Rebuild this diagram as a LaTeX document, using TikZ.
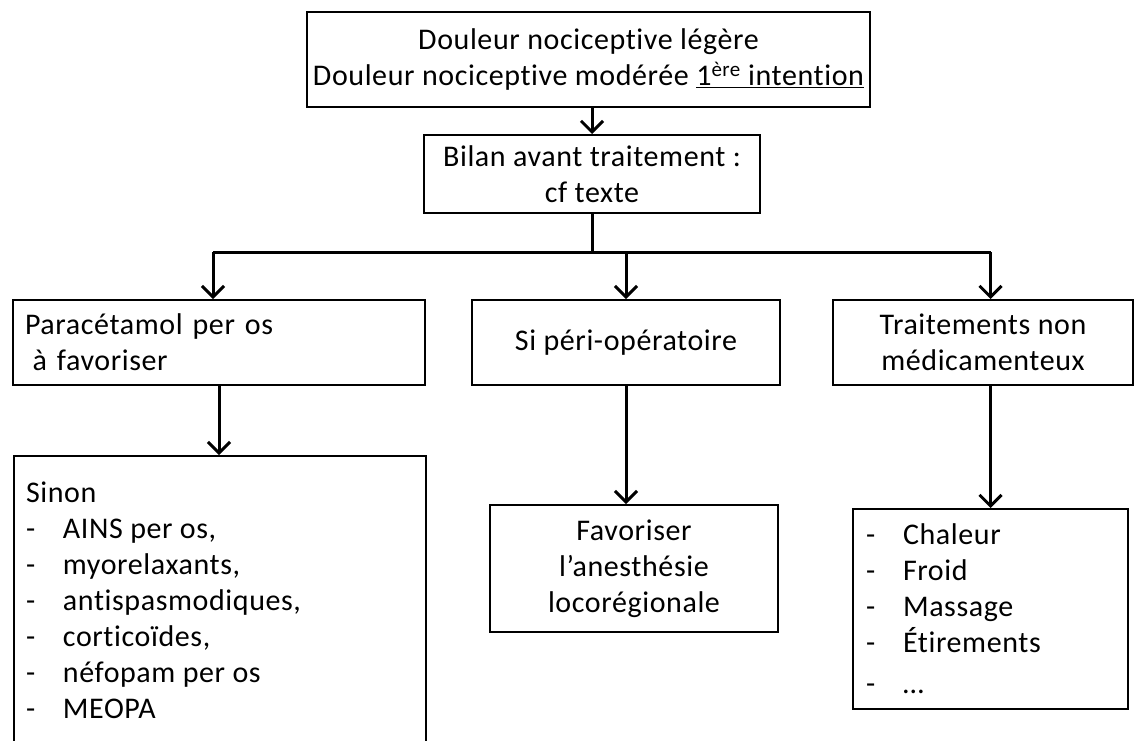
\documentclass[tikz,border=0pt]{standalone}
\usepackage{fontspec}
\setmainfont{Carlito}[LetterSpace=2, Ligatures=NoCommon]
\usepackage{tikz}
\usetikzlibrary{arrows.meta}
\newcommand{\puce}{\makebox[37pt][l]{-}}
\tikzstyle{boite} = [draw, line width=2pt, inner sep=0pt, align=center]
\tikzstyle{fleche} = [line width=3pt, -{Straight Barb[length=11pt,width=22pt]}]
\tikzstyle{liaison} = [line width=3pt]

\begin{document}
\begin{tikzpicture}[x=1pt, y=-1pt, font=\fontsize{30}{36}\selectfont]
		\useasboundingbox (0,0) rectangle (1135,740);
		% premier niveau
		\node[boite, minimum width=563, minimum height=95] (douleur) at (588.5,59.5) {Douleur nociceptive légère\\Douleur nociceptive modérée \underline{1\textsuperscript{ère} intention}};
		\node[boite, minimum width=336, minimum height=78] (bilan) at (592,174) {Bilan avant traitement :\\cf texte};
		% trois branches
		\node[boite, minimum width=412, minimum height=85, text width=388, align=left] (paracetamol) at (219,342.5) {Paracétamol per os\\\hspace{0.25em}à favoriser};
		\node[boite, minimum width=308, minimum height=85] (perioperatoire) at (626,342.5) {Si péri-opératoire};
		\node[boite, minimum width=300, minimum height=85] (nonmedic) at (983,342.5) {Traitements non\\médicamenteux};
		% dernier niveau
		\node[boite, anchor=north west, inner xsep=12pt] (sinon) at (13,455) {%
			\begin{minipage}[t][300pt][t]{388pt}
				\vspace*{26pt}Sinon\\
				\puce AINS per os,\\
				\puce myorelaxants,\\
				\puce antispasmodiques,\\
				\puce corticoïdes,\\
				\puce néfopam per os\\
				\puce MEOPA
			\end{minipage}};
		\node[boite, minimum width=288, minimum height=127] (locoregionale) at (634,568.5) {Favoriser\\l’anesthésie\\locorégionale};
		\node[boite, minimum width=275, minimum height=200, text width=249, align=left] (chaleur) at (990.5,609) {\puce Chaleur\\\puce Froid\\\puce Massage\\\puce Étirements\\[5pt]\puce …};
		% connecteurs
		\coordinate (bus) at (0,252);
		\draw[fleche] (bilan.north |- douleur.south) -- (bilan.north);
		\draw[liaison] (bilan.south) -- (bilan.south |- bus);
		\draw[liaison] ([xshift=-6pt]paracetamol.north |- bus) -- (chaleur.north |- bus);
		\draw[fleche] ([xshift=-6pt]paracetamol.north |- bus) -- ([xshift=-6pt]paracetamol.north);
		\draw[fleche] (perioperatoire.north |- bus) -- (perioperatoire.north);
		\draw[fleche] (chaleur.north |- bus) -- (chaleur.north |- nonmedic.north);
		\draw[fleche] (paracetamol.south) -- (paracetamol.south |- sinon.north);
		\draw[fleche] (perioperatoire.south) -- (perioperatoire.south |- locoregionale.north);
		\draw[fleche] (chaleur.north |- nonmedic.south) -- (chaleur.north);
	\end{tikzpicture}
\end{document}
